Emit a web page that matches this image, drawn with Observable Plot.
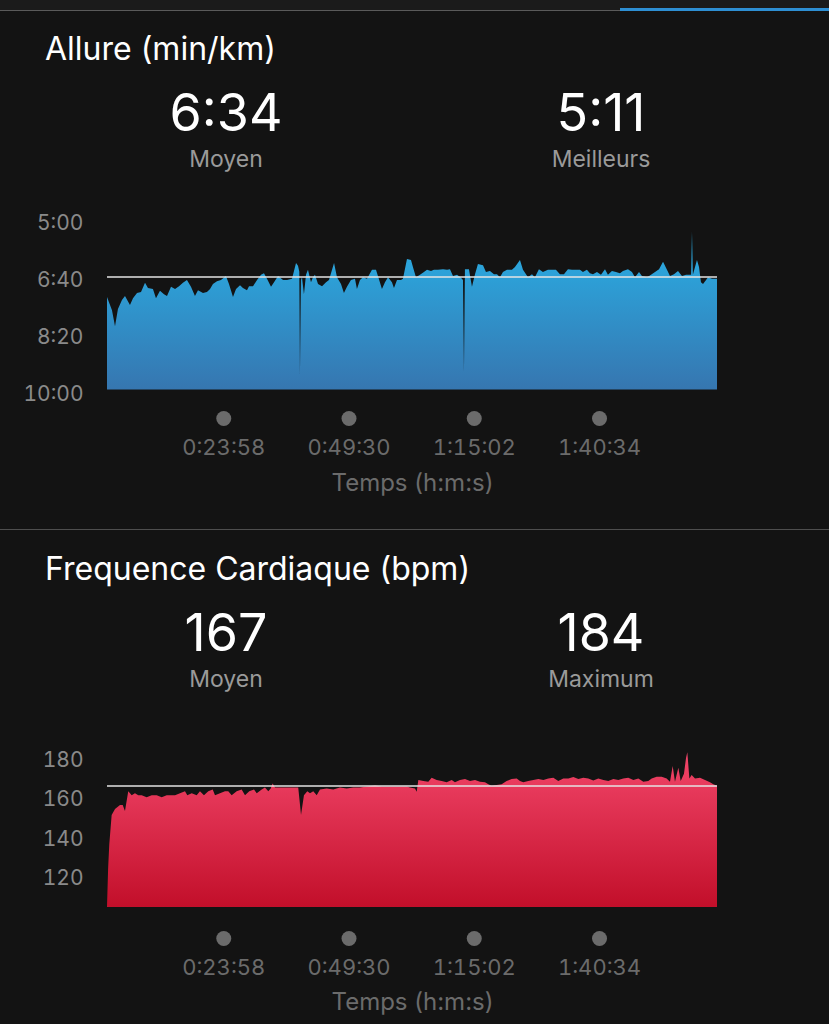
<!DOCTYPE html>
<html><head><meta charset="utf-8">
<script src="https://cdn.jsdelivr.net/npm/d3@7"></script>
<script src="https://cdn.jsdelivr.net/npm/@observablehq/plot@0.6"></script>
<style>
html,body{margin:0;padding:0;background:#131313;}
body{width:829px;height:1024px;position:relative;overflow:hidden;font-family:Inter,"Liberation Sans",sans-serif;}
.abs{position:absolute;white-space:nowrap;line-height:1;}
.title{left:45px;font-size:32px;color:#ffffff;}
.big{font-size:52px;color:#ffffff;transform:translateX(-50%);}
.sub{font-size:23px;color:#9a9a9a;transform:translateX(-50%);}
.chart{position:absolute;left:0;}
</style></head><body>
<div class="abs" style="left:0;top:0;width:829px;height:10px;background:#1b1b1b"></div>
<div class="abs" style="left:0;top:10px;width:620px;height:1px;background:#5a5a5a"></div>
<div class="abs" style="left:620px;top:8px;width:209px;height:3px;background:#2e8fd3"></div>
<div class="abs" style="left:0;top:529px;width:829px;height:1px;background:#4e4e4e"></div>
<div id="root"></div>
<script>
// ---------- data ----------
const paceTitle = "Allure (min/km)";
const hrTitle = "Frequence Cardiaque (bpm)";
const paceSummaryValues = ["6:34", "5:11"];
const paceSummaryLabels = ["Moyen", "Meilleurs"];
const hrSummaryValues = ["167", "184"];
const hrSummaryLabels = ["Moyen", "Maximum"];
const paceAvg = 394;          // 6:34 in s/km
const hrAvg = 167;
const paceTicks = [300, 400, 500, 600];   // 5:00 .. 10:00
const hrTicks = [120, 140, 160, 180];
const timeTicks = [1438, 2970, 4502, 6034]; // 0:23:58 .. 1:40:34
const timeDomain = [16, 7477];
const timeLabel = "Temps (h:m:s)";
const paceFloor = 592;
const hrFloor = 105;

const paceTime = [16,77,114,150,199,236,297,334,383,432,481,517,578,615,664,713,750,799,848,897,945,994,1043,1092,1129,1190,1239,1276,1312,1361,1410,1471,1508,1557,1594,1643,1679,1728,1753,1802,1851,1900,1936,1973,2022,2059,2108,2169,2218,2279,2328,2352,2368,2376,2388,2401,2425,2450,2474,2511,2535,2560,2597,2646,2695,2731,2793,2829,2878,2914,2951,3000,3049,3073,3110,3147,3196,3257,3306,3330,3379,3416,3453,3501,3526,3563,3612,3636,3685,3734,3758,3795,3844,3893,3930,3979,4015,4064,4126,4175,4211,4248,4297,4346,4370,4382,4394,4443,4480,4517,4553,4615,4651,4700,4749,4786,4822,4859,4908,4969,5006,5067,5104,5165,5214,5250,5299,5348,5409,5458,5507,5556,5605,5654,5703,5752,5801,5837,5886,5923,5960,6009,6058,6107,6143,6192,6241,6290,6327,6388,6437,6474,6523,6559,6621,6670,6719,6768,6817,6865,6902,6951,7000,7049,7098,7135,7160,7171,7182,7232,7257,7281,7306,7343,7367,7416,7441,7477];
const paceValue = [430,453,481,451,435,428,444,432,423,421,405,414,416,432,419,425,428,412,416,411,405,400,412,428,418,423,421,416,407,402,400,393,407,430,416,409,414,418,411,411,400,391,388,398,412,404,393,400,400,398,370,375,385,565,400,395,425,391,382,404,395,391,407,411,404,400,370,395,407,423,412,400,398,416,400,395,398,382,382,393,416,404,395,404,414,400,400,398,363,365,377,395,391,386,382,384,382,382,381,382,381,393,391,396,400,561,381,381,412,390,372,374,386,384,390,390,395,386,382,382,377,365,382,395,390,395,381,386,382,382,382,390,390,381,382,382,382,386,382,388,390,386,391,381,391,384,386,388,384,381,386,395,386,393,395,391,386,381,368,382,393,390,384,393,391,391,391,316,391,365,377,404,407,400,395,398,398,398];

const hrTime = [16,30,44,73,114,175,208,236,276,318,358,399,440,501,563,624,685,746,807,848,909,970,998,1052,1113,1153,1202,1255,1309,1337,1398,1459,1499,1541,1602,1663,1704,1756,1814,1847,1908,1948,1989,2018,2042,2071,2132,2214,2294,2355,2389,2425,2466,2499,2539,2581,2621,2703,2784,2865,2947,3028,3110,3192,3294,3375,3437,3517,3599,3681,3722,3783,3804,3824,3885,3946,3987,4048,4109,4170,4232,4272,4334,4395,4456,4517,4578,4639,4680,4721,4782,4843,4904,4965,5027,5067,5108,5169,5231,5292,5353,5414,5475,5536,5597,5659,5720,5781,5842,5903,5964,6025,6087,6148,6209,6270,6331,6392,6454,6515,6576,6637,6678,6739,6800,6861,6902,6935,6963,7004,7033,7073,7098,7114,7139,7167,7208,7269,7330,7391,7432,7477];
const hrValue = [105,125,137,152,155,157,157,154,164,162,163,162,162,161,162,162,161,162,162,162,163,164,162,163,162,164,162,164,165,162,163,164,164,162,164,165,162,164,165,163,165,166,164,165.5,168,166,166,166,166,166,152,162,164,163,164,162,165,165.5,165,166,165.5,166,166,166.5,167,166.5,166.5,166.5,166.5,166.5,166,165.5,163.8,169.8,169.3,168.9,171,169.8,169.3,168.6,169.8,168.6,169.8,170.3,169.3,169.8,168.9,168.6,167.6,166.9,167.2,167.6,169.3,170.3,170.6,169.3,168.6,169.3,169.8,170.3,169.8,170.6,171,169.3,170.6,170.6,171.3,170.3,171,170.6,169.6,170.6,169.8,169.3,170.3,169.8,170.6,171,169.8,170.6,168.9,169.3,170.6,171.5,171.5,170.6,168.9,177,168.9,176,169.3,173,181,184,170.6,172.3,170.6,171,169.8,168.6,167.6,166.9];

// ---------- helpers ----------
const pad2 = n => String(n).padStart(2, "0");
const fmtPace = s => `${Math.floor(s / 60)}:${pad2(s % 60)}`;
const fmtHMS = s => `${Math.floor(s / 3600)}:${pad2(Math.floor(s % 3600 / 60))}:${pad2(s % 60)}`;
const root = document.getElementById("root");

function addText(cls, text, left, top) {
  const d = document.createElement("div");
  d.className = "abs " + cls;
  d.textContent = text;
  if (left != null) d.style.left = left + "px";
  d.style.top = top + "px";
  root.appendChild(d);
}
function addGradient(svg, id, c0, c1) {
  const ns = "http://www.w3.org/2000/svg";
  const defs = document.createElementNS(ns, "defs");
  const g = document.createElementNS(ns, "linearGradient");
  g.setAttribute("id", id);
  g.setAttribute("x1", "0"); g.setAttribute("y1", "0");
  g.setAttribute("x2", "0"); g.setAttribute("y2", "1");
  [[0, c0], [1, c1]].forEach(([o, c]) => {
    const s = document.createElementNS(ns, "stop");
    s.setAttribute("offset", o); s.setAttribute("stop-color", c);
    g.appendChild(s);
  });
  defs.appendChild(g);
  svg.insertBefore(defs, svg.firstChild);
}

const centers = [226, 601];

// ---------- headers ----------
addText("title", paceTitle, null, 33);
paceSummaryValues.forEach((v, i) => addText("big", v, centers[i], 87));
paceSummaryLabels.forEach((v, i) => addText("sub", v, centers[i], 148));
addText("title", hrTitle, null, 553);
hrSummaryValues.forEach((v, i) => addText("big", v, centers[i], 607));
hrSummaryLabels.forEach((v, i) => addText("sub", v, centers[i], 668));

// ---------- charts ----------
const paceData = paceTime.map((t, i) => ({t, v: paceValue[i]}));
const hrData = hrTime.map((t, i) => ({t, v: hrValue[i]}));

function chart({data, domain, ticks, fmt, floor, avg, grad, top, height, mTop, mBottom, dotDy, tickPad, labelDy}) {
  const svg = Plot.plot({
    width: 829, height,
    marginLeft: 107, marginRight: 112, marginTop: mTop, marginBottom: mBottom,
    style: {background: "transparent", fontFamily: "Inter, sans-serif", overflow: "visible"},
    x: {domain: timeDomain},
    y: {domain},
    marks: [
      Plot.areaY(data, {x: "t", y1: floor, y2: "v", fill: `url(#${grad})`}),
      Plot.ruleY([avg], {stroke: "#e4e4e4", strokeWidth: 1.5}),
      Plot.axisY({ticks, tickFormat: fmt, tickSize: 0, tickPadding: 24, color: "#8a8a8a", fill: "#8a8a8a", fontSize: 21, label: null}),
      Plot.axisX({ticks: timeTicks, tickFormat: fmtHMS, tickSize: 0, tickPadding: tickPad, color: "#6b6b6b", fill: "#6b6b6b", fontSize: 22, label: null}),
      Plot.dot(timeTicks, {x: d => d, frameAnchor: "bottom", dy: dotDy, r: 7.5, fill: "#6b6b6b", stroke: "none"}),
      Plot.text([timeLabel], {text: d => d, frameAnchor: "bottom", dy: labelDy, fill: "#6b6b6b", fontSize: 24, lineAnchor: "middle"})
    ]
  });
  svg.classList.add("chart");
  svg.style.top = top + "px";
  svg.style.position = "absolute";
  svg.style.left = "0px";
  return svg;
}

const paceSvg = chart({data: paceData, domain: [600, 300], ticks: paceTicks, fmt: fmtPace, floor: paceFloor, avg: paceAvg,
  grad: "paceGrad", top: 202, height: 305, mTop: 21, mBottom: 113, dotDy: 24, tickPad: 45, labelDy: 89});
addGradient(paceSvg, "paceGrad", "#29b0e6", "#3676b0");
root.appendChild(paceSvg);

const hrSvg = chart({data: hrData, domain: [hrFloor, 180], ticks: hrTicks, fmt: d => String(d), floor: hrFloor, avg: hrAvg,
  grad: "hrGrad", top: 720, height: 300, mTop: 40, mBottom: 113, dotDy: 31, tickPad: 52, labelDy: 95});
addGradient(hrSvg, "hrGrad", "#f2466a", "#c20f2a");
root.appendChild(hrSvg);
</script>
</body></html>
